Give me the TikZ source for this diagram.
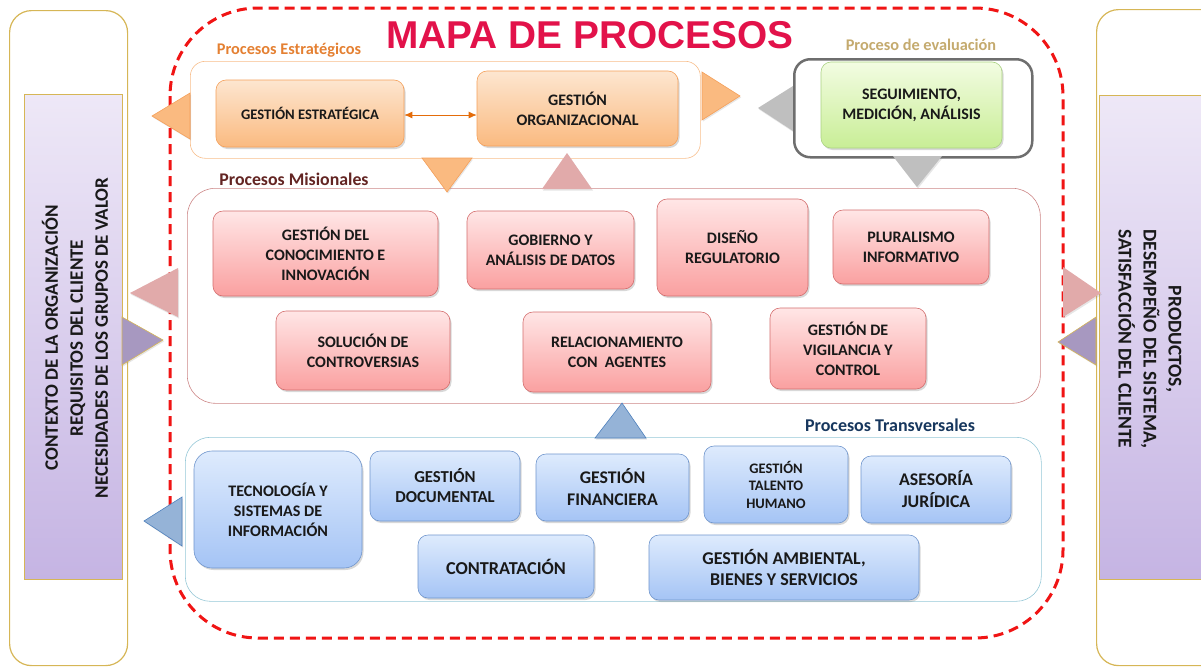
\documentclass[tikz,border=0pt]{standalone}
\usepackage{fontspec}
\setmainfont{Carlito}
\newfontfamily\titlefont{Liberation Sans}
\usetikzlibrary{positioning,arrows.meta,shadows}

\definecolor{gold}{RGB}{214,182,86}
\definecolor{lilatop}{RGB}{238,232,247}
\definecolor{lilabot}{RGB}{197,180,227}
\definecolor{rojo}{RGB}{240,20,20}
\definecolor{titulo}{RGB}{226,18,74}
\definecolor{naranja}{RGB}{228,128,50}
\definecolor{naranjaborde}{RGB}{248,190,140}
\definecolor{naranjatop}{RGB}{253,230,208}
\definecolor{naranjabot}{RGB}{250,186,128}
\definecolor{naranjalinea}{RGB}{245,160,90}
\definecolor{flecha}{RGB}{228,108,10}
\definecolor{tan}{RGB}{196,170,110}
\definecolor{gris}{RGB}{110,110,110}
\definecolor{grisclaro}{RGB}{191,191,191}
\definecolor{verdetop}{RGB}{243,252,226}
\definecolor{verdebot}{RGB}{200,238,150}
\definecolor{verdeborde}{RGB}{170,210,130}
\definecolor{granate}{RGB}{99,37,35}
\definecolor{rosaborde}{RGB}{205,135,135}
\definecolor{rosatop}{RGB}{255,230,230}
\definecolor{rosabot}{RGB}{250,160,160}
\definecolor{rosalinea}{RGB}{212,110,110}
\definecolor{rosatri}{RGB}{225,170,170}
\definecolor{moradotri}{RGB}{167,152,192}
\definecolor{azultri}{RGB}{149,179,215}
\definecolor{azullinea}{RGB}{79,129,189}
\definecolor{marino}{RGB}{23,55,94}
\definecolor{celeste}{RGB}{150,200,215}
\definecolor{azultop}{RGB}{222,235,253}
\definecolor{azulbot}{RGB}{165,196,245}
\definecolor{azulborde}{RGB}{112,150,205}
\definecolor{texto}{RGB}{25,25,25}

\begin{document}
\begin{tikzpicture}[x=1pt, y=-1pt, semithick, > = Latex,
    every node/.style={align=center, inner sep=2pt, text=texto},
    box/.style={draw, rounded corners=10pt, font=\bfseries\fontsize{16}{20}\selectfont,
        drop shadow={opacity=.3, shadow xshift=1.5pt, shadow yshift=-2pt}},
    orangebox/.style={box, draw=naranjalinea, top color=naranjatop, bottom color=naranjabot},
    greenbox/.style={box, draw=verdeborde, top color=verdetop, bottom color=verdebot},
    pinkbox/.style={box, draw=rosalinea, top color=rosatop, bottom color=rosabot},
    bluebox/.style={box, draw=azulborde, top color=azultop, bottom color=azulbot},
    group/.style={draw, fill=white, rounded corners=20pt, inner sep=0pt, anchor=north west},
    panel/.style={draw=gold, line width=1.2pt, inner sep=0pt, anchor=north west},
    label/.style={font=\bfseries\fontsize{16.3}{18}\selectfont},
    tri/.style={drop shadow={opacity=.2, shadow xshift=1pt, shadow yshift=-1.5pt}}]

    \useasboundingbox (0,0) rectangle (1201,667);
    \clip (0,0) rectangle (1201,667);

    % entradas y salidas
    \node[panel, rounded corners=22pt, minimum width=118pt, minimum height=655pt] (entradas) at (9,10) {};
    \node[panel, line width=.6pt, top color=lilatop, bottom color=lilabot, minimum width=98pt, minimum height=485pt] (contexto) at (24,94) {};
    \node[rotate=90, font=\bfseries\fontsize{19}{25}\selectfont] (contextotxt) at (75,338)
        {CONTEXTO DE LA ORGANIZACIÓN\\REQUISITOS DEL CLIENTE\\NECESIDADES DE LOS GRUPOS DE VALOR};
    \node[panel, rounded corners=22pt, minimum width=140pt, minimum height=656pt] (salidas) at (1096,9) {};
    \node[panel, line width=.6pt, top color=lilatop, bottom color=lilabot, minimum width=130pt, minimum height=484pt] (productos) at (1099,95) {};
    \node[rotate=-90, font=\bfseries\fontsize{19.5}{25}\selectfont] (productostxt) at (1150,339)
        {PRODUCTOS,\\DESEMPEÑO DEL SISTEMA,\\SATISFACCIÓN DEL CLIENTE};

    % mapa
    \draw[rojo, line width=3pt, dash pattern=on 10pt off 6pt, rounded corners=88pt] (170,8) rectangle (1063,638);
    \node[font=\titlefont\bfseries\fontsize{38.8}{40}\selectfont, text=titulo] (titulo) at (590,35) {MAPA DE PROCESOS};

    % estrategicos
    \node[label, text=naranja] (lblestr) at (289,50) {Procesos Estratégicos};
    \node[group, draw=naranjaborde, rounded corners=15pt, minimum width=510pt, minimum height=97pt] (estrategicos) at (190,61) {};
    \node[orangebox, font=\bfseries\fontsize{14.6}{20}\selectfont, minimum width=188pt, minimum height=67pt] (estrategica) at (310,113.5) {GESTIÓN ESTRATÉGICA};
    \node[orangebox, minimum width=201pt, minimum height=75pt] (organizacional) at (577.5,108.5) {GESTIÓN\\ORGANIZACIONAL};
    \draw[<->, > = {Latex[length=8pt, width=7pt]}, flecha, thick] (estrategica.east |- 0,115) -- (organizacional.west |- 0,115);

    % evaluacion
    \fill[grisclaro, tri] (793,86) -- (758,108) -- (793,131) -- cycle;
    \node[label, text=tan] (lbleval) at (921,45) {Proceso de evaluación};
    \node[group, draw=gris, line width=2.5pt, rounded corners=16pt, minimum width=238pt, minimum height=98pt] (evaluacion) at (793,58) {};
    \node[greenbox, minimum width=181pt, minimum height=86pt] (seguimiento) at (911.5,105) {SEGUIMIENTO,\\MEDICIÓN, ANÁLISIS};

    % misionales
    \node[label, text=granate, font=\bfseries\fontsize{17.8}{20}\selectfont] (lblmis) at (294,179) {Procesos Misionales};
    \node[group, draw=rosaborde, rounded corners=28pt, minimum width=853pt, minimum height=215pt] (misionales) at (187,188) {};
    \node[pinkbox, minimum width=225pt, minimum height=85pt] (conocimiento) at (325.5,253.5) {GESTIÓN DEL\\CONOCIMIENTO E\\INNOVACIÓN};
    \node[pinkbox, minimum width=167pt, minimum height=78pt] (gobierno) at (550.5,250) {GOBIERNO Y\\ANÁLISIS DE DATOS};
    \node[pinkbox, minimum width=151pt, minimum height=97pt] (diseno) at (732.5,247.5) {DISEÑO\\REGULATORIO};
    \node[pinkbox, minimum width=156pt, minimum height=74pt] (pluralismo) at (911,247) {PLURALISMO\\INFORMATIVO};
    \node[pinkbox, minimum width=174pt, minimum height=79pt] (solucion) at (363,350.5) {SOLUCIÓN DE\\CONTROVERSIAS};
    \node[pinkbox, minimum width=188pt, minimum height=80pt] (relacionamiento) at (617,352) {RELACIONAMIENTO\\CON\ \ AGENTES};
    \node[pinkbox, minimum width=156pt, minimum height=81pt] (vigilancia) at (848,348.5) {GESTIÓN DE\\VIGILANCIA Y\\CONTROL};

    % transversales
    \node[label, text=marino, font=\bfseries\fontsize{18}{20}\selectfont] (lbltrans) at (890,425) {Procesos Transversales};
    \node[group, draw=celeste, rounded corners=25pt, minimum width=856pt, minimum height=164pt] (transversales) at (185,437) {};
    \node[bluebox, rounded corners=18pt, font=\bfseries\fontsize{16.1}{20}\selectfont, minimum width=168pt, minimum height=117pt] (tecnologia) at (278,509.5) {TECNOLOGÍA Y\\SISTEMAS DE\\INFORMACIÓN};
    \node[bluebox, font=\bfseries\fontsize{16.7}{20}\selectfont, minimum width=150pt, minimum height=70pt] (documental) at (445,486) {GESTIÓN\\DOCUMENTAL};
    \node[bluebox, font=\bfseries\fontsize{17.8}{22}\selectfont, minimum width=153pt, minimum height=67pt] (financiera) at (612.5,487.5) {GESTIÓN\\FINANCIERA};
    \node[bluebox, font=\bfseries\fontsize{14.5}{17.5}\selectfont, minimum width=144pt, minimum height=77pt] (talento) at (776,484.5) {GESTIÓN\\TALENTO\\HUMANO};
    \node[bluebox, font=\bfseries\fontsize{17.8}{22}\selectfont, minimum width=150pt, minimum height=67pt] (juridica) at (936,489.5) {ASESORÍA\\JURÍDICA};
    \node[bluebox, font=\bfseries\fontsize{18.2}{22}\selectfont, minimum width=176pt, minimum height=63pt] (contratacion) at (506,566.5) {CONTRATACIÓN};
    \node[bluebox, font=\bfseries\fontsize{18}{21}\selectfont, minimum width=270pt, minimum height=65pt] (ambiental) at (784,567.5) {GESTIÓN AMBIENTAL,\\BIENES Y SERVICIOS};

    % flechas triangulares
    \filldraw[fill=naranjabot, draw=naranjalinea, tri] (190,93) -- (152,116) -- (190,139) -- cycle;
    \filldraw[fill=naranjabot, draw=naranjalinea, tri] (702,72) -- (740,96) -- (702,120) -- cycle;
    \filldraw[fill=naranjabot, draw=naranjalinea, tri] (422,158) -- (447,192) -- (472,158) -- cycle;
    \fill[rosatri, tri] (542,189) -- (567,153) -- (592,189) -- cycle;
    \fill[grisclaro, tri] (893,156) -- (917,187) -- (942,156) -- cycle;
    \fill[rosatri, tri] (178,268) -- (130,293) -- (178,317) -- cycle;
    \filldraw[fill=moradotri, draw=gold, tri] (122,317) -- (163,340) -- (122,365) -- cycle;
    \fill[rosatri, tri] (1063,267) -- (1101,293) -- (1063,317) -- cycle;
    \filldraw[fill=moradotri, draw=gold, tri] (1096,317) -- (1058,342) -- (1096,365) -- cycle;
    \filldraw[fill=azultri, draw=azullinea, tri] (595,438) -- (622,403) -- (646,438) -- cycle;
    \filldraw[fill=azultri, draw=azullinea, tri] (182,497) -- (144,521) -- (182,546) -- cycle;

\end{tikzpicture}
\end{document}
